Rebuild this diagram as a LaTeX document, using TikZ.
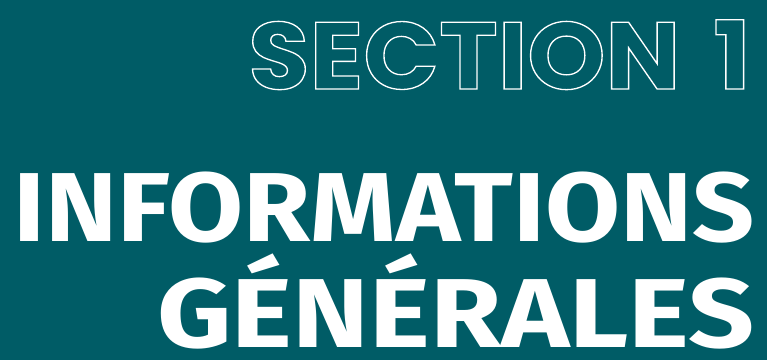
\documentclass[tikz,border=0pt]{standalone}
\usepackage{fontspec}
\setmainfont{Fira Sans}
\newfontfamily\sectfont{Poppins}
\definecolor{teal}{HTML}{005C66}
\newcommand{\outlinetext}[1]{\special{pdf:literal direct 1 Tr 1.3 w 1 1 1 RG}#1\special{pdf:literal direct 0 Tr}}
\begin{document}
\begin{tikzpicture}[x=1pt, y=-1pt]
		\tikzset{title/.style={inner sep=0pt, anchor=base east, text=white, transform shape, font=\fontsize{98}{98}\selectfont\bfseries}};
		\tikzset{sect/.style={inner sep=0pt, anchor=base east, text=white, transform shape, font=\fontsize{95}{95}\sectfont\bfseries}};

		\fill[teal] (0, 0) rectangle (767, 360);
		\useasboundingbox (0, 0) rectangle (767, 360);

		\node[sect, xscale=1.047] (sec) at (751, 89) {\outlinetext{SECTION\,\,1}};
		\node[title, xscale=1.11] (info) at (755, 241) {INFORMATIONS};
		\node[title, xscale=1.18] (gen) at (755, 347) {GÉNÉRALES};
	\end{tikzpicture}
\end{document}
